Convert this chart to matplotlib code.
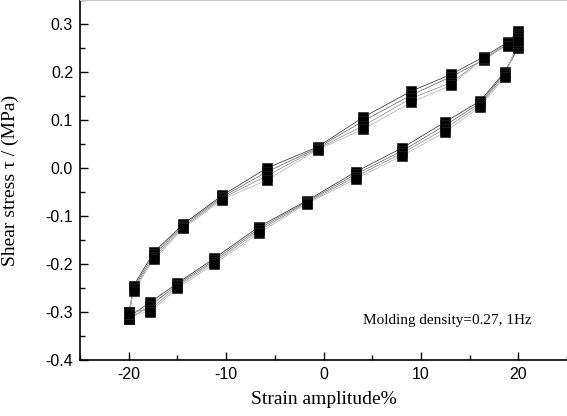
import matplotlib.pyplot as plt
from matplotlib.ticker import MultipleLocator

plt.rcParams['axes.unicode_minus'] = False

# Strain positions of the sampled points (upper branch: +20 -> -20, lower branch: -20 -> +20)
x_up = [20.0, 18.9, 16.5, 13.1, 9.0, 4.1, -0.6, -5.8, -10.4, -14.4, -17.4, -19.5, -20.0]
x_lo = [-20.0, -17.8, -15.0, -11.2, -6.6, -1.7, 3.3, 8.1, 12.5, 16.1, 18.6, 20.0]

# Shear stress (MPa) for four loading cycles
up_c1 = [0.285, 0.262, 0.232, 0.195, 0.160, 0.106, 0.044, 0.000, -0.057, -0.117, -0.175, -0.245, -0.310]
up_c2 = [0.280, 0.258, 0.226, 0.190, 0.152, 0.098, 0.042, -0.008, -0.060, -0.120, -0.180, -0.250, -0.315]
up_c3 = [0.275, 0.260, 0.228, 0.178, 0.145, 0.088, 0.040, -0.016, -0.063, -0.123, -0.186, -0.253, -0.300]
up_c4 = [0.270, 0.255, 0.230, 0.172, 0.137, 0.081, 0.038, -0.025, -0.066, -0.126, -0.190, -0.256, -0.305]

lo_c1 = [-0.310, -0.280, -0.240, -0.188, -0.122, -0.068, -0.008, 0.042, 0.096, 0.140, 0.200, 0.250]
lo_c2 = [-0.315, -0.287, -0.243, -0.192, -0.126, -0.070, -0.013, 0.036, 0.089, 0.136, 0.197, 0.255]
lo_c3 = [-0.300, -0.295, -0.246, -0.196, -0.130, -0.072, -0.018, 0.031, 0.082, 0.132, 0.193, 0.260]
lo_c4 = [-0.305, -0.300, -0.250, -0.200, -0.135, -0.074, -0.023, 0.026, 0.075, 0.128, 0.190, 0.265]

cycles = [(up_c1, lo_c1), (up_c2, lo_c2), (up_c3, lo_c3), (up_c4, lo_c4)]
line_colors = ['#444444', '#777777', '#999999', '#bbbbbb']

fig = plt.figure(figsize=(5.67, 4.16), dpi=100)
ax = fig.add_axes([80 / 567, 56 / 416, 487 / 567, 360 / 416])

for (up, lo), c in zip(cycles, line_colors):
    xs = x_up + x_lo
    ys = up + lo
    ax.plot(xs, ys, color=c, lw=0.6, zorder=2)
    ax.plot(xs, ys, ls='none', marker='s', ms=6.5, mfc='black', mec='#222222',
            mew=0.5, zorder=3)

ax.set_xlim(-25, 25)
ax.set_ylim(-0.4, 0.35)
ax.xaxis.set_major_locator(MultipleLocator(10))
ax.xaxis.set_minor_locator(MultipleLocator(5))
ax.yaxis.set_minor_locator(MultipleLocator(0.05))
ax.set_yticks([-0.4, -0.3, -0.2, -0.1, 0.0, 0.1, 0.2, 0.3])
ax.set_yticklabels(['-0.4', '-0.3', '-0.2', '-0.1', '0.0', '0.1', '0.2', '0.3'])

ax.tick_params(which='major', direction='in', length=6, width=1.0,
               labelsize=11.5, pad=5)
ax.tick_params(which='minor', direction='in', length=3.5, width=1.0)
for lbl in ax.get_xticklabels() + ax.get_yticklabels():
    lbl.set_family('Liberation Sans')

ax.spines['right'].set_visible(False)
ax.spines['top'].set_color('#cccccc')
ax.spines['top'].set_linewidth(0.8)
ax.spines['left'].set_linewidth(1.2)
ax.spines['bottom'].set_linewidth(1.2)

ax.set_xlabel('Strain amplitude%', family='Liberation Serif', fontsize=14)
ax.set_ylabel('Shear stress \u03c4 / (MPa)', family='Liberation Serif', fontsize=14)
ax.xaxis.set_label_coords(0.5, -0.085)
ax.yaxis.set_label_coords(-0.125, 0.5)

ax.text(4.1, -0.318, 'Molding density=0.27, 1Hz', family='Liberation Serif',
        fontsize=11, ha='left', va='center')

fig.savefig('out.png', dpi=100)
